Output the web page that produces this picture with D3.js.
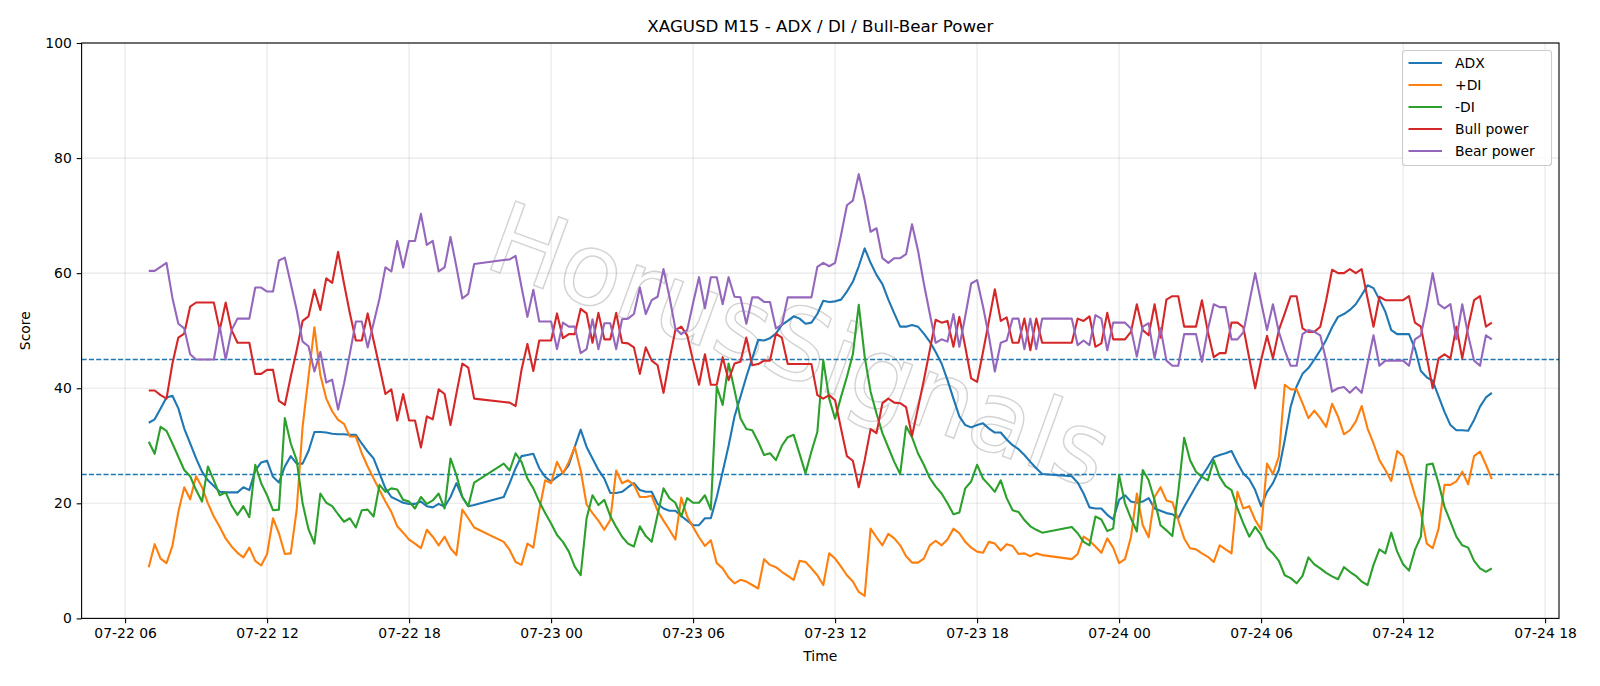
<!DOCTYPE html>
<html>
<head>
<meta charset="utf-8">
<script src="https://cdn.jsdelivr.net/npm/d3@7"></script>
<style>
  body { margin: 0; background: #fff; }
  svg { display: block; font-family: "DejaVu Sans", sans-serif; }
</style>
</head>
<body>
<svg id="chart" width="1600" height="686"></svg>
<script>
// M15 bars, three trading sessions (the 21:00 daily break is missing from the data)
const sessions = [
  { start: "2025-07-22T07:00:00Z", bars: 56 },
  { start: "2025-07-22T22:00:00Z", bars: 92 },
  { start: "2025-07-23T22:00:00Z", bars: 72 }
];

const adx = [
  34.0, 34.6, 36.5, 38.4, 38.7, 36.5, 33.0, 30.4, 27.8, 25.5,
  24.0, 23.0, 22.0, 21.9, 21.9, 21.9, 22.8, 22.3, 25.7, 27.1,
  27.4, 24.6, 23.6, 26.4, 28.2, 26.9, 26.9, 29.1, 32.4, 32.4,
  32.3, 32.1, 32.0, 32.0, 31.9, 31.9, 30.4, 29.0, 27.8, 25.2,
  22.6, 21.1, 20.6, 20.1, 19.9, 19.9, 20.3, 19.5, 19.3, 19.9,
  19.4, 21.1, 23.5, 21.1, 19.5, 19.7,
  21.1, 23.5, 26.1, 28.2, 28.4, 28.6, 26.1, 24.6, 23.8, 24.6,
  25.3, 26.7, 29.8, 32.8, 29.8, 27.8, 25.8, 24.3, 21.8, 21.8,
  22.0, 22.8, 23.5, 22.3, 22.0, 22.0, 19.9, 19.1, 18.7, 18.7,
  17.8, 17.0, 16.2, 16.2, 17.4, 17.4, 21.1, 25.5, 30.0, 35.1,
  38.5, 42.0, 45.2, 48.4, 48.3, 48.7, 49.5, 51.0, 51.7, 52.5,
  52.1, 51.2, 51.4, 52.9, 55.2, 55.0, 55.1, 55.4, 56.8, 58.5,
  61.2, 64.3, 61.8, 59.7, 58.1, 55.4, 53.0, 50.7, 50.7, 51.0,
  50.7, 49.5, 48.1, 46.3, 44.3, 41.4, 38.2, 35.1, 33.6, 33.2,
  33.6, 33.9, 33.0, 32.3, 32.3, 31.1, 30.1, 29.4, 28.4, 27.2,
  26.1, 25.1,
  24.7, 23.6, 21.7, 19.3, 19.1, 19.1, 18.0, 17.2, 20.6, 21.4,
  20.3, 20.1, 20.3, 20.9, 19.1, 18.7, 18.3, 18.1, 17.4, 19.4,
  21.2, 23.0, 24.7, 26.3, 28.0, 28.4, 28.7, 29.1, 27.0, 25.2,
  24.2, 22.3, 19.5, 22.0, 23.5, 25.8, 31.0, 36.8, 40.3, 42.5,
  43.5, 45.0, 46.6, 48.4, 50.6, 52.4, 52.9, 53.6, 54.6, 56.2,
  57.9, 57.4, 55.4, 53.3, 50.1, 49.4, 49.4, 49.4, 46.9, 43.0,
  41.9, 41.3, 38.6, 35.9, 33.6, 32.7, 32.7, 32.6, 34.5, 36.8,
  38.4, 39.2
];

const plusDI = [
  8.9, 12.9, 10.4, 9.6, 12.6, 18.5, 22.8, 20.7, 24.7, 22.8,
  20.0, 17.7, 15.9, 13.9, 12.5, 11.4, 10.6, 12.3, 10.0, 9.2,
  11.2, 17.4, 14.8, 11.2, 11.3, 18.8, 33.3, 42.0, 50.6, 42.3,
  38.2, 36.0, 34.5, 33.8, 31.6, 31.6, 28.7, 26.4, 24.3, 22.3,
  20.3, 18.5, 16.0, 14.9, 13.7, 13.0, 12.2, 15.4, 14.2, 12.7,
  14.2, 12.2, 11.0, 18.9, 17.4, 15.8,
  13.3, 11.9, 9.8, 9.3, 13.0, 12.3, 18.8, 24.0, 23.5, 27.2,
  25.2, 27.2, 29.8, 25.7, 19.8, 18.3, 17.0, 15.4, 17.1, 25.7,
  23.5, 24.0, 23.2, 21.1, 21.1, 21.3, 18.7, 17.0, 15.4, 13.7,
  21.0, 17.7, 15.9, 14.1, 12.6, 13.6, 9.6, 8.7, 7.1, 6.1,
  6.7, 6.4, 5.8, 5.2, 10.3, 9.3, 8.9, 8.1, 7.4, 6.7,
  10.0, 9.8, 8.7, 7.5, 5.8, 11.3, 10.4, 9.0, 7.5, 6.4,
  4.6, 3.9, 15.6, 14.1, 12.7, 14.7, 13.9, 12.7, 10.8, 9.7,
  9.7, 10.4, 12.7, 13.5, 12.7, 13.7, 15.6, 14.8, 13.3, 12.3,
  11.6, 11.4, 13.3, 13.0, 11.8, 12.9, 12.6, 11.2, 11.3, 10.8,
  11.3, 11.0,
  10.3, 11.2, 14.2, 13.5, 12.5, 11.4, 13.9, 12.3, 9.6, 10.3,
  14.1, 21.7, 16.2, 14.1, 21.1, 22.8, 20.5, 20.2, 17.1, 13.9,
  12.2, 12.0, 11.3, 10.7, 9.8, 12.7, 12.0, 11.3, 22.0, 19.1,
  19.5, 17.1, 15.4, 26.9, 25.1, 28.1, 40.6, 39.8, 39.8, 37.4,
  34.8, 36.1, 34.8, 33.3, 37.3, 35.1, 32.0, 32.7, 34.2, 36.9,
  33.0, 30.4, 27.5, 25.8, 23.9, 29.1, 28.2, 24.9, 21.4, 18.5,
  13.0, 12.2, 15.6, 23.2, 23.2, 23.8, 25.5, 23.3, 28.2, 29.0,
  26.7, 24.2
];

const minusDI = [
  30.7, 28.6, 33.3, 32.6, 30.4, 28.1, 25.8, 24.7, 22.3, 20.3,
  26.4, 24.0, 21.4, 21.9, 19.6, 18.0, 19.5, 17.6, 26.7, 23.5,
  21.4, 18.8, 18.9, 34.8, 30.4, 27.5, 20.0, 15.5, 13.0, 21.7,
  20.1, 19.5, 18.1, 16.8, 17.4, 15.8, 18.8, 18.9, 17.7, 23.2,
  22.0, 22.6, 22.4, 20.6, 20.3, 19.1, 21.1, 19.9, 20.5, 21.7,
  19.1, 27.8, 24.9, 21.1, 19.5, 23.6,
  26.9, 25.7, 28.7, 27.2, 24.3, 22.6, 20.3, 18.3, 16.5, 14.5,
  13.3, 11.6, 9.0, 7.5, 17.4, 21.4, 19.7, 20.6, 17.8, 15.9,
  14.2, 13.0, 12.5, 16.0, 14.3, 13.3, 18.0, 22.6, 20.9, 20.1,
  17.7, 20.9, 20.1, 20.1, 21.4, 18.9, 40.3, 37.1, 44.3, 39.7,
  34.8, 32.9, 32.7, 30.7, 28.4, 28.7, 27.5, 30.0, 31.5, 31.9,
  28.6, 25.2, 29.0, 32.4, 44.9, 38.2, 34.7, 38.5, 42.0, 45.9,
  54.5, 45.5, 39.4, 35.6, 32.2, 29.7, 27.2, 25.1, 33.4, 31.5,
  28.7, 26.7, 24.4, 22.9, 21.7, 20.0, 18.1, 18.4, 22.6, 23.8,
  26.7, 24.3, 23.2, 22.0, 24.0, 20.9, 18.8, 18.5, 17.1, 16.0,
  15.4, 14.9,
  15.9, 14.8, 13.3, 12.7, 17.7, 17.2, 15.2, 15.6, 24.9, 20.0,
  17.4, 15.1, 25.8, 24.0, 20.5, 16.2, 15.3, 14.3, 22.0, 31.4,
  27.5, 25.5, 24.6, 24.0, 27.5, 24.6, 23.0, 22.3, 19.1, 16.5,
  14.2, 15.9, 14.5, 12.3, 11.3, 10.0, 7.5, 7.0, 6.1, 7.4,
  10.6, 9.4, 8.7, 7.9, 7.3, 6.8, 8.9, 8.1, 7.4, 6.4,
  5.8, 9.3, 12.0, 11.3, 14.9, 11.6, 9.4, 8.3, 11.9, 14.2,
  26.7, 26.9, 23.5, 19.4, 16.8, 14.2, 12.7, 12.3, 10.0, 8.7,
  8.1, 8.7
];

const bullPower = [
  39.6, 39.6, 38.8, 38.2, 44.3, 48.8, 49.5, 54.2, 54.9, 54.9,
  54.9, 54.9, 50.1, 54.9, 50.1, 47.9, 47.9, 47.9, 42.5, 42.5,
  43.2, 43.2, 37.8, 37.1, 42.0, 46.6, 51.7, 52.5, 57.1, 53.6,
  59.1, 58.3, 63.7, 58.2, 53.0, 48.3, 48.3, 53.0, 48.3, 43.7,
  39.0, 39.8, 34.4, 39.0, 34.4, 34.4, 29.7, 35.1, 34.6, 39.8,
  39.0, 33.6, 39.1, 44.3, 43.6, 38.2,
  37.6, 37.5, 36.9, 43.2, 47.7, 43.0, 48.3, 48.3, 48.3, 53.0,
  48.7, 49.4, 49.4, 53.8, 53.0, 47.9, 53.1, 48.5, 48.5, 53.1,
  47.9, 47.8, 47.1, 42.5, 47.1, 44.8, 44.0, 39.2, 44.9, 50.1,
  50.7, 49.2, 44.8, 40.6, 45.9, 40.6, 40.6, 45.4, 41.4, 44.3,
  44.6, 48.8, 44.0, 44.2, 44.8, 44.8, 49.5, 48.8, 44.2, 44.2,
  44.2, 44.2, 44.2, 38.8, 38.2, 38.8, 37.9, 33.0, 28.2, 27.4,
  22.8, 27.5, 32.9, 32.2, 37.4, 38.2, 37.5, 37.4, 36.7, 31.7,
  36.5, 41.4, 46.6, 51.9, 51.4, 51.7, 47.2, 52.4, 47.2, 41.7,
  41.1, 46.3, 51.7, 57.2, 51.7, 52.3, 47.9, 47.9, 52.1, 46.6,
  52.1, 47.9,
  47.9, 52.1, 51.7, 52.5, 47.2, 47.8, 53.1, 48.5, 48.5, 48.5,
  49.8, 54.6, 50.1, 49.2, 54.6, 48.8, 55.4, 56.0, 56.0, 50.7,
  50.7, 50.7, 55.3, 49.8, 45.4, 46.1, 46.1, 51.4, 51.4, 50.6,
  45.2, 40.0, 44.9, 49.1, 45.2, 50.1, 53.0, 56.0, 56.0, 50.4,
  49.8, 49.8, 50.7, 55.3, 60.6, 60.0, 60.0, 60.7, 60.0, 60.7,
  55.6, 50.7, 55.9, 55.3, 55.3, 55.3, 55.3, 56.0, 51.4, 50.7,
  45.4, 40.0, 45.2, 45.9, 45.2, 50.7, 45.2, 50.7, 55.3, 56.0,
  50.7, 51.4
];

const bearPower = [
  60.4, 60.4, 61.1, 61.8, 55.7, 51.2, 50.4, 45.9, 45.0, 45.0,
  45.0, 45.0, 50.7, 45.0, 50.1, 52.1, 52.1, 52.1, 57.5, 57.5,
  56.8, 56.8, 62.2, 62.7, 58.2, 53.6, 48.1, 47.3, 42.9, 46.3,
  41.0, 41.5, 36.3, 40.8, 46.1, 51.6, 51.6, 47.1, 51.3, 55.6,
  61.0, 60.3, 65.6, 61.0, 65.6, 65.6, 70.3, 64.9, 65.6, 60.3,
  61.0, 66.3, 61.1, 55.6, 56.4, 61.6,
  62.3, 62.4, 63.0, 57.6, 52.4, 57.1, 51.6, 51.6, 51.6, 46.8,
  51.4, 50.7, 50.7, 46.1, 46.8, 52.0, 46.8, 51.3, 51.3, 46.8,
  52.0, 52.1, 52.9, 57.5, 52.9, 55.3, 55.9, 60.7, 55.9, 50.4,
  49.4, 50.1, 54.8, 59.3, 53.9, 59.3, 59.3, 54.6, 59.3, 55.9,
  55.8, 51.2, 55.8, 55.8, 55.0, 55.0, 50.4, 51.0, 55.8, 55.8,
  55.8, 55.8, 55.8, 61.1, 61.8, 61.2, 61.8, 66.6, 71.8, 72.6,
  77.2, 72.7, 67.2, 67.8, 62.6, 61.8, 62.6, 62.6, 63.3, 68.5,
  64.0, 58.2, 53.0, 47.9, 48.5, 48.1, 52.9, 47.2, 52.5, 58.2,
  58.8, 54.2, 49.0, 42.9, 47.9, 48.3, 52.1, 52.1, 46.8, 52.1,
  46.8, 52.1,
  52.1, 47.5, 48.3, 47.5, 52.7, 52.1, 46.6, 51.4, 51.4, 51.4,
  50.4, 45.5, 50.7, 51.3, 45.2, 50.4, 44.8, 43.9, 43.9, 49.4,
  49.4, 49.4, 44.6, 50.2, 54.6, 54.1, 54.1, 48.5, 48.5, 49.7,
  54.9, 60.0, 55.0, 50.1, 54.6, 49.8, 46.6, 43.9, 43.9, 49.4,
  50.1, 49.8, 49.2, 44.8, 39.4, 40.0, 40.2, 39.2, 40.2, 39.2,
  44.3, 49.2, 43.9, 44.8, 44.8, 44.8, 44.8, 43.9, 48.5, 49.2,
  54.2, 60.0, 54.6, 53.9, 54.6, 48.5, 54.6, 49.2, 44.8, 43.9,
  49.2, 48.5
];

const seriesNames = ["ADX", "+DI", "-DI", "Bull power", "Bear power"];
const seriesColors = ["#1f77b4", "#ff7f0e", "#2ca02c", "#d62728", "#9467bd"];
const levels = [25, 45];
const yTicks = [0, 20, 40, 60, 80, 100];

// build the bar times from the sessions
const times = [];
sessions.forEach(s => {
    const t0 = new Date(s.start);
    for (let k = 0; k < s.bars; k++) times.push(d3.utcMinute.offset(t0, 15 * k));
});
const allSeries = [adx, plusDI, minusDI, bullPower, bearPower];

const W = 1600, H = 686;
const margin = { top: 43, right: 41, bottom: 67.6, left: 81.6 };
const svg = d3.select("#chart");

const tMin = times[0], tMax = times[times.length - 1];
const pad = (tMax - tMin) * 0.05;
const x = d3.scaleUtc()
    .domain([new Date(+tMin - pad), new Date(+tMax + pad)])
    .range([margin.left, W - margin.right]);
const y = d3.scaleLinear()
    .domain([0, 100])
    .range([H - margin.bottom, margin.top]);

const xTicks = d3.utcHour.every(6).range(x.domain()[0], x.domain()[1]);
const fmt = d3.utcFormat("%m-%d %H");

// grid
const grid = svg.append("g").attr("stroke", "#b0b0b0").attr("stroke-opacity", 0.3).attr("stroke-width", 1.1);
grid.selectAll(".gx").data(xTicks).join("line")
    .attr("x1", d => x(d)).attr("x2", d => x(d))
    .attr("y1", margin.top).attr("y2", H - margin.bottom);
grid.selectAll(".gy").data(yTicks).join("line")
    .attr("x1", margin.left).attr("x2", W - margin.right)
    .attr("y1", d => y(d)).attr("y2", d => y(d));

// watermark
svg.append("text")
    .attr("transform", "translate(800,345) rotate(20)")
    .attr("text-anchor", "middle")
    .attr("dy", "0.35em")
    .attr("font-size", 100)
    .attr("fill", "none")
    .attr("stroke", "#a8a8a8")
    .attr("stroke-opacity", 0.5)
    .attr("stroke-width", 1.4)
    .text("HorusSignals");

// threshold levels
svg.append("g").selectAll("line").data(levels).join("line")
    .attr("x1", margin.left).attr("x2", W - margin.right)
    .attr("y1", d => y(d)).attr("y2", d => y(d))
    .attr("stroke", "#1f77b4")
    .attr("stroke-width", 1.4)
    .attr("stroke-dasharray", "5.1,2.2");

// series
const line = d3.line().x(d => x(d[0])).y(d => y(d[1]));
allSeries.forEach((vals, k) => {
    svg.append("path")
        .datum(times.map((t, i) => [t, vals[i]]))
        .attr("fill", "none")
        .attr("stroke", seriesColors[k])
        .attr("stroke-width", 2.1)
        .attr("stroke-linejoin", "round")
        .attr("d", line);
});

// axes
const xAxis = svg.append("g")
    .attr("transform", `translate(0,${H - margin.bottom})`)
    .call(d3.axisBottom(x).tickValues(xTicks).tickFormat(fmt).tickSize(4.9).tickPadding(4.9));
const yAxis = svg.append("g")
    .attr("transform", `translate(${margin.left},0)`)
    .call(d3.axisLeft(y).tickValues(yTicks).tickSize(4.9).tickPadding(4.9));
[xAxis, yAxis].forEach(a => {
    a.select(".domain").remove();
    a.selectAll("line").attr("stroke", "#000").attr("stroke-width", 1.1);
    a.selectAll("text").attr("font-family", "DejaVu Sans").attr("font-size", 13.9).attr("fill", "#000");
});

svg.append("rect")
    .attr("x", margin.left).attr("y", margin.top)
    .attr("width", W - margin.left - margin.right)
    .attr("height", H - margin.top - margin.bottom)
    .attr("fill", "none").attr("stroke", "#000").attr("stroke-width", 1.1);

// labels
svg.append("text")
    .attr("x", (margin.left + W - margin.right) / 2).attr("y", 26.5)
    .attr("dy", "0.35em").attr("text-anchor", "middle")
    .attr("font-size", 16.7).text("XAGUSD M15 - ADX / DI / Bull-Bear Power");
svg.append("text")
    .attr("x", (margin.left + W - margin.right) / 2).attr("y", 656)
    .attr("dy", "0.35em").attr("text-anchor", "middle")
    .attr("font-size", 13.9).text("Time");
svg.append("text")
    .attr("transform", `translate(25.5,${(margin.top + H - margin.bottom) / 2}) rotate(-90)`)
    .attr("dy", "0.35em").attr("text-anchor", "middle")
    .attr("font-size", 13.9).text("Score");

// legend
const lg = svg.append("g");
lg.append("rect")
    .attr("x", 1402.5).attr("y", 50.5).attr("width", 149).attr("height", 115).attr("rx", 3)
    .attr("fill", "#fff").attr("fill-opacity", 0.8)
    .attr("stroke", "#cccccc").attr("stroke-width", 1.1);
seriesNames.forEach((name, k) => {
    const yy = 63 + k * 22;
    lg.append("line")
        .attr("x1", 1408.5).attr("x2", 1442).attr("y1", yy).attr("y2", yy)
        .attr("stroke", seriesColors[k]).attr("stroke-width", 2.1);
    lg.append("text")
        .attr("x", 1455).attr("y", yy).attr("dy", "0.35em")
        .attr("font-size", 13.9).text(name);
});
</script>
</body>
</html>
